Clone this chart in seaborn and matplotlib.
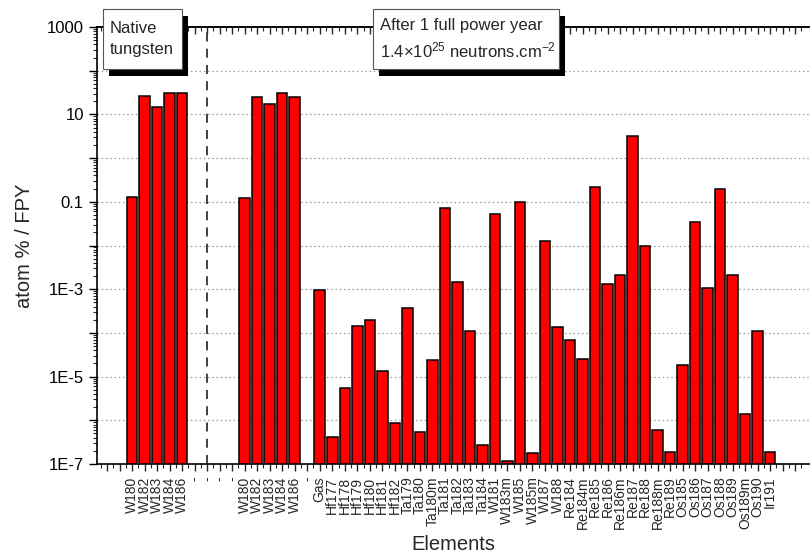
"""Isotope inventory of tungsten after one full power year (log bar chart)."""

import matplotlib.pyplot as plt
import numpy as np
import pandas as pd
import seaborn as sns
from matplotlib.patches import Rectangle
from matplotlib.ticker import FixedLocator, LogLocator, NullFormatter

# Native tungsten composition
native_labels = ["W180", "W182", "W183", "W184", "W186"]
native_values = [0.13, 26.8, 15.0, 30.6, 30.6]

# Spacer columns between the two groups
gap_labels = ["-", "-", "-", "-"]

# After 1 full power year (None = no bar)
fpy_labels = [
    "W180", "W182", "W183", "W184", "W186", "-", "Gas",
    "Hf177", "Hf178", "Hf179", "Hf180", "Hf181", "Hf182",
    "Ta179", "Ta180", "Ta180m", "Ta181", "Ta182", "Ta183", "Ta184",
    "W181", "W183m", "W185", "W185m", "W187", "W188",
    "Re184", "Re184m", "Re185", "Re186", "Re186m", "Re187", "Re188",
    "Re188m", "Re189",
    "Os185", "Os186", "Os187", "Os188", "Os189", "Os189m", "Os190",
    "Ir191",
]
fpy_values = [
    0.124, 25.4, 17.3, 30.6, 25.4, None, 9.6e-4,
    4.1e-7, 5.4e-6, 1.46e-4, 1.94e-4, 1.34e-5, 8.5e-7,
    3.66e-4, 5.3e-7, 2.4e-5, 0.071, 1.44e-3, 1.12e-4, 2.7e-7,
    0.053, 1.17e-7, 0.098, 1.76e-7, 0.0129, 1.39e-4,
    6.8e-5, 2.57e-5, 0.222, 1.29e-3, 2.15e-3, 3.2, 9.9e-3,
    5.9e-7, 1.9e-7,
    1.8e-5, 0.035, 1.05e-3, 0.193, 2.15e-3, 1.39e-6, 1.09e-4,
    1.9e-7,
]

y_tick_values = [1e-7, 1e-6, 1e-5, 1e-4, 1e-3, 1e-2, 1e-1, 1, 10, 100, 1000]
y_tick_labels = ["1E-7", "", "1E-5", "", "1E-3", "", "0.1", "", "10", "", "1000"]

labels = ["", ""] + native_labels + gap_labels + fpy_labels + ["", ""]
values = [None, None] + native_values + [None] * len(gap_labels) + fpy_values + [None, None]
positions = np.arange(len(labels))

df = pd.DataFrame({"pos": positions, "label": labels, "value": values})
df["value"] = df["value"].astype(float)
bars = df.dropna(subset=["value"])

W, H = 811, 560

sns.set_theme(style="ticks")
plt.rcParams["font.family"] = ["Liberation Sans", "DejaVu Sans"]
plt.rcParams["mathtext.fontset"] = "custom"
plt.rcParams["mathtext.rm"] = "Liberation Sans"

fig = plt.figure(figsize=(W / 100, H / 100), dpi=100)
ax = fig.add_axes([97 / W, 1 - 464 / H, (809 - 97) / W, (464 - 27) / H])

sns.barplot(
    data=bars, x="pos", y="value", native_scale=True, width=0.84,
    color="#ff0000", saturation=1, edgecolor="black", linewidth=1.1, ax=ax,
)

ax.set_yscale("log")
ax.set_ylim(1e-7, 1000)
ax.set_xlim(-0.8, 56.1)

# decade grid
for y in y_tick_values[1:-1]:
    ax.axhline(y, color="#999999", ls=(0, (1.2, 2.2)), lw=0.9, zorder=0.5)

# separator between native and irradiated
ax.axvline(8, color="#333333", ls=(0, (5, 4)), lw=1.3, zorder=0.6)

# y axis
ax.yaxis.set_major_locator(FixedLocator(y_tick_values))
ax.set_yticklabels(y_tick_labels)
ax.yaxis.set_minor_locator(LogLocator(base=10, subs=np.arange(2, 10), numticks=20))
ax.yaxis.set_minor_formatter(NullFormatter())
ax.tick_params(axis="y", which="major", direction="out", length=6, width=1,
               labelsize=12, colors="black")
ax.tick_params(axis="y", which="minor", direction="out", length=3, width=0.8)

# x axis
ax.set_xticks(positions)
ax.set_xticklabels(labels, rotation=90, fontsize=10)
ax.set_xticks(np.arange(-0.5, len(labels), 1), minor=True)
ax.tick_params(axis="x", which="major", direction="out", length=5, width=1, pad=4)
ax.tick_params(axis="x", which="minor", direction="out", length=3, width=0.8)

top = ax.secondary_xaxis("top")
top.set_xticks(positions)
top.set_xticks(np.arange(-0.5, len(labels), 1), minor=True)
top.tick_params(which="major", direction="in", length=5, width=1, labeltop=False)
top.tick_params(which="minor", direction="in", length=3, width=0.8)

for side in ["left", "bottom", "top"]:
    ax.spines[side].set_color("black")
    ax.spines[side].set_linewidth(1.2)
ax.spines["right"].set_visible(False)
top.spines["top"].set_linewidth(1.2)

ax.set_xlabel("Elements", fontsize=14.5)
ax.set_ylabel("atom % / FPY", fontsize=14.5)
ax.xaxis.set_label_coords(0.5, -0.163)
ax.yaxis.set_label_coords(-0.088, 0.5)


def label_box(x0, y0, x1, y1, text):
    """White box with a black drop shadow, given in pixel coordinates."""
    shadow = Rectangle(((x0 + 6) / W, 1 - (y1 + 7) / H), (x1 - x0) / W, (y1 - y0) / H,
                       transform=fig.transFigure, facecolor="black", edgecolor="none",
                       zorder=5)
    box = Rectangle((x0 / W, 1 - y1 / H), (x1 - x0) / W, (y1 - y0) / H,
                    transform=fig.transFigure, facecolor="white", edgecolor="#555555",
                    linewidth=0.8, zorder=6)
    fig.add_artist(shadow)
    fig.add_artist(box)
    fig.text((x0 + 7) / W, 1 - (y0 + y1) / 2 / H, text, ha="left", va="center",
             fontsize=12, linespacing=1.45, zorder=7)


label_box(103, 9, 182, 69, "Native\ntungsten")
label_box(373, 9, 559, 69,
          "After 1 full power year\n"
          "1.4×10$\\mathregular{^{25}}$ neutrons.cm$\\mathregular{^{-2}}$")

fig.savefig("out.png", dpi=100)
